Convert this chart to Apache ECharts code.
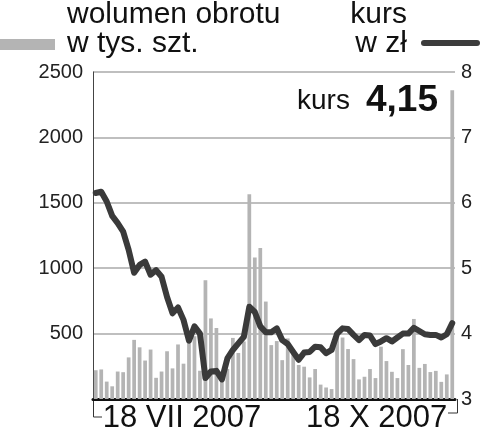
<!DOCTYPE html>
<html>
<head>
<meta charset="utf-8">
<script src="https://cdn.jsdelivr.net/npm/echarts@6/dist/echarts.min.js"></script>
<style>
  html, body { margin: 0; padding: 0; background: #fff; }
  #main { width: 482px; height: 444px; }
</style>
</head>
<body>
<div id="main"></div>
<script>
// wolumen obrotu (tys. szt.), sesje 18 VII 2007 - 18 X 2007
var volume = [
  220, 226, 133, 97, 210, 205, 318, 452, 395, 294,
  378, 162, 210, 365, 234, 417, 270, 425, 480, 216,
  908, 616, 543, 150, 230, 467, 352, 440, 1565, 1082,
  1155, 745, 412, 443, 297, 463, 350, 260, 247, 165,
  229, 110, 88, 76, 500, 470, 382, 305, 150, 170,
  229, 160, 400, 290, 208, 160, 381, 260, 612, 238,
  268, 206, 215, 131, 188, 2360
]
// kurs w zł
var price = [
  6.15, 6.17, 6.02, 5.80, 5.69, 5.56, 5.28, 4.93, 5.05, 5.10,
  4.90, 4.97, 4.87, 4.56, 4.31, 4.40, 4.21, 3.89, 4.11, 4.00,
  3.32, 3.42, 3.43, 3.30, 3.62, 3.75, 3.85, 3.95, 4.41, 4.33,
  4.11, 4.02, 4.02, 4.08, 3.90, 3.84, 3.72, 3.60, 3.71, 3.72,
  3.80, 3.79, 3.70, 3.75, 4.00, 4.08, 4.07, 3.98, 3.90, 3.98,
  3.97, 3.84, 3.88, 3.93, 3.88, 3.94, 4.00, 4.00, 4.09, 4.04,
  3.99, 3.98, 3.98, 3.94, 3.99, 4.16
]
var tickLabels = ['18 VII 2007', '18 X 2007']
var days = volume.map(function (v, i) { return i })

var font = 'Liberation Sans, Arial, sans-serif'
var chart = echarts.init(document.getElementById('main'))
var option = {
  animation: false,
  grid: { left: 93, right: 27, top: 72, bottom: 45 },
  graphic: [
    { type: 'text', left: 67, top: 0, style: { text: 'wolumen obrotu', font: '30px ' + font, fill: '#111' } },
    { type: 'text', left: 67, top: 29, style: { text: 'w tys. szt.', font: '30px ' + font, fill: '#111' } },
    { type: 'text', right: 75, top: 0, style: { text: 'kurs', font: '30px ' + font, fill: '#111' } },
    { type: 'text', right: 75, top: 29, style: { text: 'w zł', font: '30px ' + font, fill: '#111' } },
    { type: 'rect', shape: { x: 0, y: 39, width: 55, height: 11 }, style: { fill: '#b4b4b4' } },
    { type: 'line', shape: { x1: 424, y1: 43, x2: 477, y2: 43 }, style: { stroke: '#3c3c3c', lineWidth: 6, lineCap: 'round' } },
    { type: 'text', left: 297, top: 87, style: { text: 'kurs', font: '28px ' + font, fill: '#111' } },
    { type: 'text', left: 366, top: 82, style: { text: '4,15', font: 'bold 37px ' + font, fill: '#111' } },
    { type: 'polyline', shape: { points: [[93.5, 399], [93.5, 417], [102, 417]] }, style: { stroke: '#333', lineWidth: 1, fill: null } },
    { type: 'polyline', shape: { points: [[457.5, 399], [457.5, 413], [448, 413]] }, style: { stroke: '#333', lineWidth: 1, fill: null } }
  ],
  xAxis: {
    type: 'category',
    data: days,
    axisLine: { lineStyle: { color: '#111', width: 3 } },
    axisTick: { show: false },
    axisLabel: {
      interval: function (i) { return i === 0 || i === days.length - 1 },
      formatter: function (v, i) { return i === 0 ? tickLabels[0] : tickLabels[1] },
      alignMinLabel: 'left',
      alignMaxLabel: 'right',
      padding: [0, 5, 0, 7],
      color: '#111',
      fontFamily: font,
      fontSize: 31,
      margin: 4
    }
  },
  yAxis: [
    {
      type: 'value',
      min: 0,
      max: 2500,
      interval: 500,
      axisLine: { show: true, lineStyle: { color: '#444', width: 1 } },
      axisTick: { show: false },
      axisLabel: {
        showMinLabel: false,
        formatter: function (v) { return String(v) },
        color: '#222',
        fontFamily: font,
        fontSize: 20,
        margin: 10
      },
      splitLine: { lineStyle: { color: '#aaa', width: 1.5 } }
    },
    {
      type: 'value',
      min: 3,
      max: 8,
      interval: 1,
      axisLine: { show: false },
      axisTick: { show: false },
      axisLabel: { color: '#222', fontFamily: font, fontSize: 20, margin: 6 },
      splitLine: { show: false }
    }
  ],
  series: [
    {
      name: 'wolumen obrotu',
      type: 'bar',
      data: volume,
      barCategoryGap: '32%',
      itemStyle: { color: '#b4b4b4' }
    },
    {
      name: 'kurs',
      type: 'line',
      yAxisIndex: 1,
      data: price,
      symbol: 'none',
      lineStyle: { color: '#3a3a3a', width: 6, cap: 'round', join: 'round' },
      z: 5
    }
  ]
}
chart.setOption(option)
</script>
</body>
</html>
